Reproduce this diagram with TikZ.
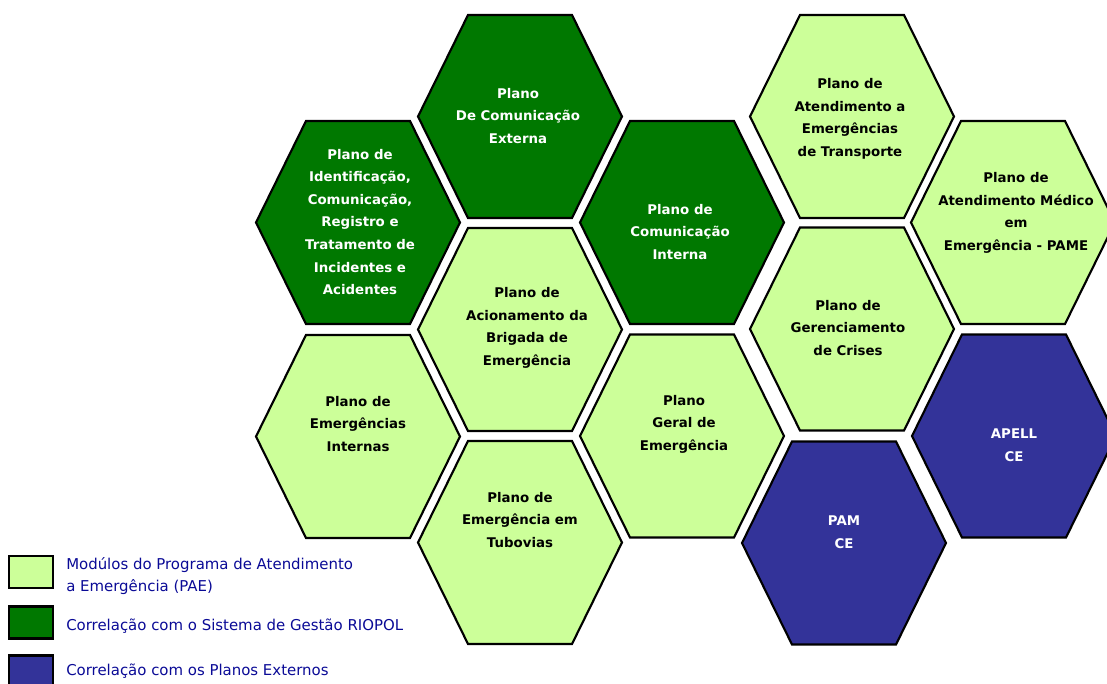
\documentclass[tikz,border=0pt]{standalone}
\usepackage{fontspec}
\setmainfont{DejaVu Sans}
\usetikzlibrary{positioning}

\definecolor{paegreen}{RGB}{204,255,153}
\definecolor{riogreen}{RGB}{0,120,0}
\definecolor{extblue}{RGB}{51,51,153}
\definecolor{keyblue}{RGB}{10,10,150}

\tikzset{
  hexa/.pic={\path[pic actions] (-102,0) -- (-52,-101.5) -- (52,-101.5) -- (102,0)
      -- (52,101.5) -- (-52,101.5) -- cycle;},
  hexlight/.style={draw=black, line width=1.6pt, fill=paegreen},
  hexdark/.style={draw=black, line width=1.6pt, fill=riogreen},
  hexblue/.style={draw=black, line width=1.6pt, fill=extblue},
  hextext/.style={align=center, inner sep=0pt, font=\bfseries\fontsize{10}{16.9}\selectfont},
  keybox/.style={draw=black, line width=2pt, minimum width=33pt, minimum height=24pt, inner sep=0pt},
  keytext/.style={anchor=west, align=left, inner sep=0pt, text=keyblue, font=\fontsize{11.2}{16.5}\selectfont}
}

\begin{document}
\begin{tikzpicture}[x=0.75pt,y=-0.75pt]
\useasboundingbox (0,0) rectangle (1107,684);
\clip (0,0) rectangle (1107,684);

% dark green column
\pic[hexdark] at (358,222.5) {hexa};
\node[hextext, white] (idf) at (360,222) {Plano de\\Identificação,\\Comunicação,\\Registro e\\Tratamento de\\Incidentes e\\Acidentes};

\pic[hexdark] at (520,116.5) {hexa};
\node[hextext, white] (ext) at (518,116) {Plano\\De Comunicação\\Externa};

\pic[hexdark] at (682,222.5) {hexa};
\node[hextext, white] (int) at (680,232) {Plano de\\Comunicação\\Interna};

% light green ones
\pic[hexlight] at (520,329.5) {hexa};
\node[hextext] (acio) at (527,328) {Plano de\\Acionamento da\\Brigada de\\Emergência};

\pic[hexlight] at (358,436.5) {hexa};
\node[hextext] (emi) at (358,424) {Plano de\\Emergências\\Internas};

\pic[hexlight] at (682,436) {hexa};
\node[hextext] (ger) at (684,424) {Plano\\Geral de\\Emergência};

\pic[hexlight] at (520,542.5) {hexa};
\node[hextext] (tub) at (520,520) {Plano de\\Emergência em\\Tubovias};

\pic[hexlight] at (852,116.5) {hexa};
\node[hextext] (tra) at (850,119) {Plano de\\Atendimento a\\Emergências\\de Transporte};

\pic[hexlight] at (852,329) {hexa};
\node[hextext] (cri) at (848,328) {Plano de\\Gerenciamento\\de Crises};

\pic[hexlight] at (1013,222.5) {hexa};
\node[hextext] (med) at (1016,213) {Plano de\\Atendimento Médico\\em\\Emergência - PAME};

% external plans
\pic[hexblue] at (1014,436) {hexa};
\node[hextext, white] (apell) at (1014,445) {APELL\\CE};

\pic[hexblue] at (844,543) {hexa};
\node[hextext, white] (pam) at (844,532) {PAM\\CE};

% legend
\node[keybox, fill=paegreen] (keypae) at (31,572) {};
\node[keytext] (txtpae) at (66,576) {Modúlos do Programa de Atendimento\\a Emergência (PAE)};

\node[keybox, fill=riogreen] (keyrio) at (31,622.5) {};
\node[keytext] (txtrio) at (66,626) {Correlação com o Sistema de Gestão RIOPOL};

\node[keybox, fill=extblue] (keyext) at (31,671.5) {};
\node[keytext] (txtext) at (66,671) {Correlação com os Planos Externos};

\end{tikzpicture}
\end{document}
